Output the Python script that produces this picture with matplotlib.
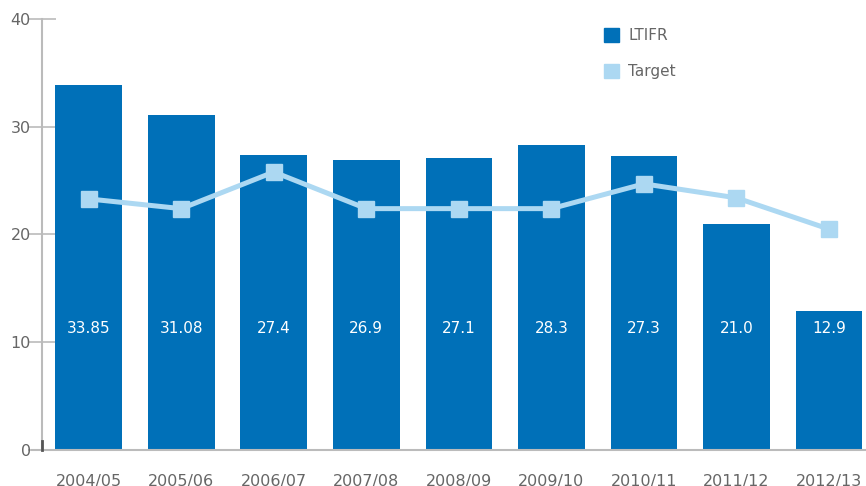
import matplotlib.pyplot as plt
from matplotlib.patches import Patch

years = ['2004/05', '2005/06', '2006/07', '2007/08', '2008/09',
         '2009/10', '2010/11', '2011/12', '2012/13']
ltifr_labels = ['33.85', '31.08', '27.4', '26.9', '27.1', '28.3', '27.3', '21.0', '12.9']
ltifr = [float(s) for s in ltifr_labels]
target = [23.3, 22.4, 25.8, 22.4, 22.4, 22.4, 24.7, 23.4, 20.5]

dark = '#0070b8'
light = '#acd8f2'
grey = '#666666'

plt.rcParams['font.family'] = ['DejaVu Sans']

fig = plt.figure(figsize=(8.66, 4.86), dpi=100)
ax = fig.add_axes([0.0485, 0.074, 0.9515, 0.887])

x = list(range(len(years)))
bars = ax.bar(x, ltifr, width=0.72, color=dark, zorder=2)
for xi, lab in zip(x, ltifr_labels):
    ax.text(xi, 11.3, lab, ha='center', va='center', color='white', fontsize=11)

ax.plot(x, target, color=light, lw=3.6, marker='s', markersize=12, zorder=3)

ax.set_xlim(-0.505, 8.4)
ax.set_ylim(0, 40)
ax.set_yticks([0, 10, 20, 30, 40])
ax.set_xticks(x)
ax.set_xticklabels(years)

for s in ['top', 'right']:
    ax.spines[s].set_visible(False)
ax.spines['left'].set_color('#bbbbbb')
ax.spines['left'].set_linewidth(1.5)
ax.spines['bottom'].set_color('#bbbbbb')
ax.spines['bottom'].set_linewidth(1.5)
ax.spines['bottom'].set_bounds(-0.61, 8.4)

ax.tick_params(axis='y', direction='inout', length=20, width=1.2, color='#bbbbbb',
               labelcolor=grey, labelsize=11.5, pad=-2)
ax.tick_params(axis='x', length=0, labelcolor=grey, labelsize=11.5, pad=17)

# little dark mark where the axes meet
ax.plot([-0.505, -0.505], [0, 0.8], color='#555555', lw=2, clip_on=False, zorder=4)

handles = [Patch(color=dark, label='LTIFR'), Patch(color=light, label='Target')]
ax.legend(handles=handles, loc='upper left', bbox_to_anchor=(0.665, 1.01),
          frameon=False, fontsize=11, handlelength=1.0, handleheight=1.0,
          labelspacing=1.35, handletextpad=0.6, labelcolor=grey)

fig.savefig('out.png', dpi=100)
